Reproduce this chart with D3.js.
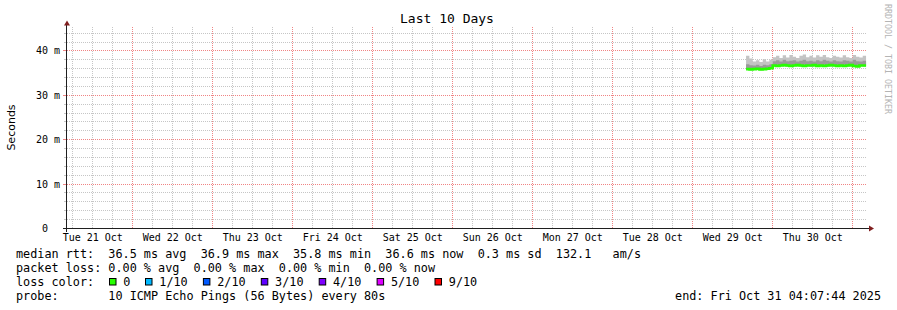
<!DOCTYPE html>
<html><head><meta charset="utf-8">
<script src="https://cdn.jsdelivr.net/npm/d3@7"></script>
<style>
body{margin:0;background:#fff}
svg text{font-family:"DejaVu Sans Mono",monospace;white-space:pre}
</style></head><body><svg id="c" width="897" height="310"></svg>
<script>
// ---------- data ----------
const chartTitle = "Last 10 Days";
const yAxisLabel = "Seconds";
const watermark = "RRDTOOL / TOBI OETIKER";
const endTime = "2025-10-31T04:07:44";
const lastSampleEnd = "2025-10-31T04:00";
const yTickValues = [0, 10, 20, 30, 40];
const sampleTimes = [
  "2025-10-29T16:00","2025-10-29T17:00","2025-10-29T18:00","2025-10-29T19:00",
  "2025-10-29T20:00","2025-10-29T21:00","2025-10-29T22:00","2025-10-29T23:00",
  "2025-10-30T00:00","2025-10-30T01:00","2025-10-30T02:00","2025-10-30T03:00",
  "2025-10-30T04:00","2025-10-30T05:00","2025-10-30T06:00","2025-10-30T07:00",
  "2025-10-30T08:00","2025-10-30T09:00","2025-10-30T10:00","2025-10-30T11:00",
  "2025-10-30T12:00","2025-10-30T13:00","2025-10-30T14:00","2025-10-30T15:00",
  "2025-10-30T16:00","2025-10-30T17:00","2025-10-30T18:00","2025-10-30T19:00",
  "2025-10-30T20:00","2025-10-30T21:00","2025-10-30T22:00","2025-10-30T23:00",
  "2025-10-31T00:00","2025-10-31T01:00","2025-10-31T02:00","2025-10-31T03:00"
];
const medianRtt = [
  35.9,35.8,35.9,36.0,35.8,35.9,36.0,36.1,
  36.7,36.6,36.7,36.8,36.7,36.6,36.7,36.8,36.7,36.6,36.7,36.7,36.8,36.6,
  36.7,36.6,36.7,36.8,36.7,36.6,36.7,36.6,36.7,36.8,36.6,36.5,36.7,36.7
];
const smokeMin = [
  35.7,35.6,35.7,35.8,35.6,35.7,35.8,35.9,
  36.4,36.4,36.5,36.5,36.4,36.4,36.5,36.5,36.4,36.4,36.5,36.4,36.5,36.4,
  36.5,36.4,36.4,36.5,36.5,36.4,36.5,36.4,36.4,36.5,36.4,36.3,36.5,36.4
];
const smokeLowerQ = [
  35.8,35.7,35.8,35.9,35.7,35.8,35.9,36.0,
  36.6,36.5,36.6,36.7,36.6,36.5,36.6,36.7,36.6,36.5,36.6,36.6,36.7,36.5,
  36.6,36.5,36.6,36.7,36.6,36.5,36.6,36.5,36.6,36.7,36.5,36.4,36.6,36.6
];
const smokeUpperQ = [
  37.0,36.8,36.7,36.9,36.6,36.9,36.8,37.0,
  37.7,37.9,37.6,38.0,37.7,37.8,37.9,37.6,37.8,38.0,37.7,37.8,37.6,37.9,
  37.7,38.0,37.8,37.6,37.9,37.7,37.6,37.9,37.8,37.6,38.0,37.7,37.6,37.8
];
const smokeMax = [
  38.9,38.3,37.6,37.9,37.5,38.1,37.6,38.0,
  38.6,38.9,38.4,39.0,38.5,39.1,38.7,38.4,38.9,39.2,38.6,38.9,38.5,39.0,
  38.7,39.1,38.6,38.4,38.9,38.7,38.5,39.0,38.6,38.4,39.1,38.7,38.5,38.9
];
const legendLines = [
  "median rtt:  36.5 ms avg  36.9 ms max  35.8 ms min  36.6 ms now  0.3 ms sd  132.1   am/s",
  "packet loss: 0.00 % avg  0.00 % max  0.00 % min  0.00 % now",
  "loss color:",
  "probe:       10 ICMP Echo Pings (56 Bytes) every 80s"
];
const lossLabels = ["0","1/10","2/10","3/10","4/10","5/10","9/10"];
const lossColors = ["#26ff00","#00b8ff","#0059ff","#5e00ff","#7e00ff","#dd00ff","#ff0000"];
const endLabel = "end: Fri Oct 31 04:07:44 2025";

// ---------- drawing ----------
const svg = d3.select("#c");
const parse = s => new Date(s);
const tEnd = parse(endTime);
const tStart = d3.timeDay.offset(tEnd, -10);
const x = d3.scaleTime().domain([tStart, tEnd]).range([66.5, 866.5]);
const y = d3.scaleLinear().domain([0, 45.05]).range([228.5, 28.5]);
const px = v => Math.floor(v) + 0.5;

const gridMinor = "#c6c6c6";
const gridMajor = "#f08484";

const sixHours = d3.timeHour.every(6).range(tStart, tEnd);
const minorT = sixHours.filter(d => d.getHours() !== 0);
const majorT = sixHours.filter(d => d.getHours() === 0);
const hMinor = d3.range(2, 45, 2).filter(v => v % 10 !== 0);
const hMajor = yTickValues.filter(v => v > 0);

const g = svg.append("g");
function vlines(cls, data, color) {
  g.selectAll("line." + cls).data(data).join("line").attr("class", cls)
    .attr("x1", d => px(x(d))).attr("x2", d => px(x(d)))
    .attr("y1", 27).attr("y2", 228)
    .attr("stroke", color).attr("stroke-width", 1).attr("stroke-dasharray", "1 1");
}
function hlines(cls, data, color) {
  g.selectAll("line." + cls).data(data).join("line").attr("class", cls)
    .attr("x1", 67).attr("x2", 867)
    .attr("y1", d => px(y(d))).attr("y2", d => px(y(d)))
    .attr("stroke", color).attr("stroke-width", 1).attr("stroke-dasharray", "1 1");
}
vlines("vmin", minorT, gridMinor);
hlines("hmin", hMinor, gridMinor);
hlines("hmaj", hMajor, gridMajor);
vlines("vmaj", majorT, gridMajor);
g.selectAll("line.ytm").data(hMinor).join("line").attr("class", "ytm")
  .attr("x1", 64).attr("x2", 66)
  .attr("y1", d => px(y(d))).attr("y2", d => px(y(d)))
  .attr("stroke", gridMinor);
g.selectAll("line.ytM").data(hMajor).join("line").attr("class", "ytM")
  .attr("x1", 63).attr("x2", 66)
  .attr("y1", d => px(y(d))).attr("y2", d => px(y(d)))
  .attr("stroke", gridMajor);

// data
const pts = sampleTimes.map((t, i) => ({
  t: parse(t), med: medianRtt[i], mn: smokeMin[i], lq: smokeLowerQ[i],
  uq: smokeUpperQ[i], mx: smokeMax[i]
}));
const last = pts[pts.length - 1];
pts.push(Object.assign({}, last, { t: parse(lastSampleEnd) }));
const outer = d3.area().curve(d3.curveStepAfter).x(d => x(d.t)).y0(d => y(d.mn)).y1(d => y(d.mx));
const inner = d3.area().curve(d3.curveStepAfter).x(d => x(d.t)).y0(d => y(d.lq)).y1(d => y(d.uq));
const medLine = d3.line().curve(d3.curveStepAfter).x(d => x(d.t)).y(d => y(d.med));
svg.append("path").datum(pts).attr("d", outer).attr("fill", "#c4c4c4");
svg.append("path").datum(pts).attr("d", inner).attr("fill", "#9a9a9a");
svg.append("path").datum(pts).attr("d", medLine).attr("fill", "none")
  .attr("stroke", lossColors[0]).attr("stroke-width", 2.6);

// axes
const axisColor = "#1f1f1f", arrowColor = "#801f1f";
svg.append("line").attr("x1", 63).attr("x2", 870).attr("y1", 228.5).attr("y2", 228.5).attr("stroke", axisColor);
svg.append("line").attr("x1", 66.5).attr("x2", 66.5).attr("y1", 232).attr("y2", 24).attr("stroke", axisColor);
svg.append("path").attr("d", "M64,25.5L67,20.5L70,25.5Z").attr("fill", arrowColor);
svg.append("path").attr("d", "M869,225.5L874,228.5L869,231.5Z").attr("fill", arrowColor);

// y labels
svg.selectAll("text.yl").data(yTickValues).join("text").attr("class", "yl")
  .attr("x", d => d === 0 ? 48 : 60).attr("y", d => px(y(d)) + 3.5)
  .attr("text-anchor", "end").attr("font-size", 10)
  .text(d => d === 0 ? "0" : d + " m");
// x labels (centered at noon)
const fmt = d3.timeFormat("%a %d Oct");
const labelDays = d3.timeDay.range(d3.timeDay.floor(tStart), tEnd)
  .filter(d => x(d3.timeHour.offset(d, 12)) > 66 && x(d3.timeHour.offset(d, 12)) < 866);
svg.selectAll("text.xl").data(labelDays).join("text").attr("class", "xl")
  .attr("x", d => x(d3.timeHour.offset(d, 12))).attr("y", 241)
  .attr("text-anchor", "middle").attr("font-size", 10)
  .text(d => fmt(d));

// title
svg.append("text").attr("x", 447).attr("y", 22.5).attr("text-anchor", "middle")
  .attr("font-size", 13).text(chartTitle);
// y axis label
svg.append("text").attr("transform", "translate(15,127.5) rotate(-90)")
  .attr("text-anchor", "middle").attr("font-size", 11)
  .style("font-family", "'DejaVu Sans',sans-serif").text(yAxisLabel);
// watermark
svg.append("text").attr("transform", "translate(885,4) rotate(90)")
  .attr("font-size", 8.3).attr("fill", "#b4b4b4").text(watermark);

// legend
const baselines = [257.5, 271.7, 285.8, 300];
svg.selectAll("text.lg").data(legendLines).join("text").attr("class", "lg")
  .attr("x", 16).attr("y", (d, i) => baselines[i]).attr("font-size", 11.8).text(d => d);
const lossX = (i) => i === 0 ? 109 : 145 + (i - 1) * 57.9;
const lg = svg.selectAll("g.lc").data(lossLabels).join("g").attr("class", "lc");
lg.append("rect").attr("x", (d, i) => lossX(i) + 0.5).attr("y", 278.5).attr("width", 6.5).attr("height", 6.5)
  .attr("fill", (d, i) => lossColors[i]).attr("stroke", "#000");
lg.append("text").attr("x", (d, i) => lossX(i) + 14.3).attr("y", baselines[2])
  .attr("font-size", 11.8).text(d => d);
svg.append("text").attr("x", 881).attr("y", baselines[3]).attr("text-anchor", "end")
  .attr("font-size", 11.8).text(endLabel);
</script></body></html>
